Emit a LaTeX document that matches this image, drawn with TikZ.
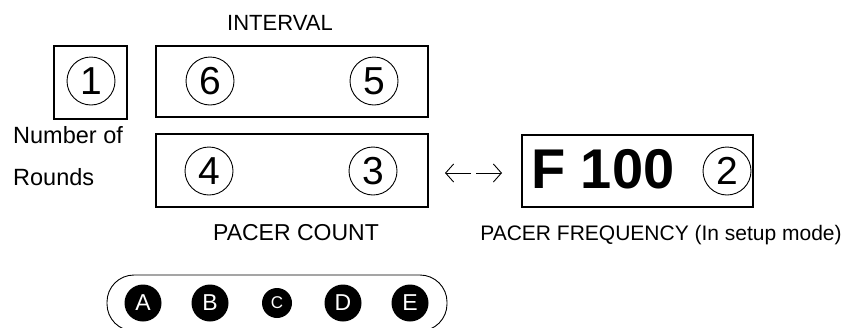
\documentclass[tikz,border=0pt]{standalone}
\usepackage{fontspec}
\setmainfont{Liberation Sans}
\usetikzlibrary{arrows.meta}
\begin{document}
\begin{tikzpicture}[x=1pt,y=-1pt,
  frame/.style={draw, line width=1.1pt, rectangle, inner sep=0pt},
  digit/.style={draw, circle, line width=0.9pt, minimum size=48pt, inner sep=0pt,
    font=\fontsize{39}{39}\selectfont},
  key/.style={fill=black, circle, inner sep=0pt, text=white, minimum size=37pt,
    font=\fontsize{23}{23}\selectfont},
  smallkey/.style={key, minimum size=30pt, font=\fontsize{17}{17}\selectfont},
  caption/.style={inner sep=0pt, anchor=base, font=\fontsize{22}{22}\selectfont},
  barb/.style={line width=0.9pt, -{Straight Barb[length=8pt,width=18pt,line width=0.9pt]}}]
\useasboundingbox (0,0) rectangle (845,327);

% display boxes
\node[frame, minimum width=73pt, minimum height=73pt] (rounds) at (90.5,82.5) {};
\node[frame, minimum width=272pt, minimum height=71pt] (interval) at (292,81.5) {};
\node[frame, minimum width=272pt, minimum height=73pt] (pacer) at (292,170.5) {};
\node[frame, minimum width=231pt, minimum height=72pt] (freq) at (637.5,171) {};

% numbered markers
\node[digit] (d1) at (91,81) {1};
\node[digit] (d6) at (210,81) {6};
\node[digit] (d5) at (374,81) {5};
\node[digit] (d4) at (209,171) {4};
\node[digit] (d3) at (373,171) {3};
\node[digit] (d2) at (727,171) {2};

% frequency readout
\node[inner sep=0pt, anchor=west, font=\bfseries\fontsize{56}{56}\selectfont] (f100) at (531,169.5) {F 100};

% captions
\node[caption] (tint) at (280,30) {INTERVAL};
\node[caption, font=\fontsize{23}{23}\selectfont] (tpc) at (296,240) {PACER COUNT};
\node[caption, font=\fontsize{21}{21}\selectfont] (tpf) at (661,240) {PACER FREQUENCY (In setup mode)};
\node[caption, anchor=base west, font=\fontsize{23.5}{23.5}\selectfont] (tnum) at (13,143) {Number of};
\node[caption, anchor=base west, font=\fontsize{23.5}{23.5}\selectfont] (trnd) at (13,185) {Rounds};

% toggle arrows between the two displays
\coordinate (la) at (471,173);
\coordinate (lb) at (445,173);
\coordinate (ra) at (476,173);
\coordinate (rb) at (502,173);
\draw[barb] (la) -- (lb);
\draw[barb] (ra) -- (rb);

% button strip
\draw[line width=0.9pt, rounded corners=27pt] (107,275) rectangle (447,331);
\node[key] (ka) at (143,303) {A};
\node[key] (kb) at (210,303) {B};
\node[smallkey] (kc) at (277,303) {C};
\node[key] (kd) at (343,303) {D};
\node[key] (ke) at (410,303) {E};
\end{tikzpicture}
\end{document}
